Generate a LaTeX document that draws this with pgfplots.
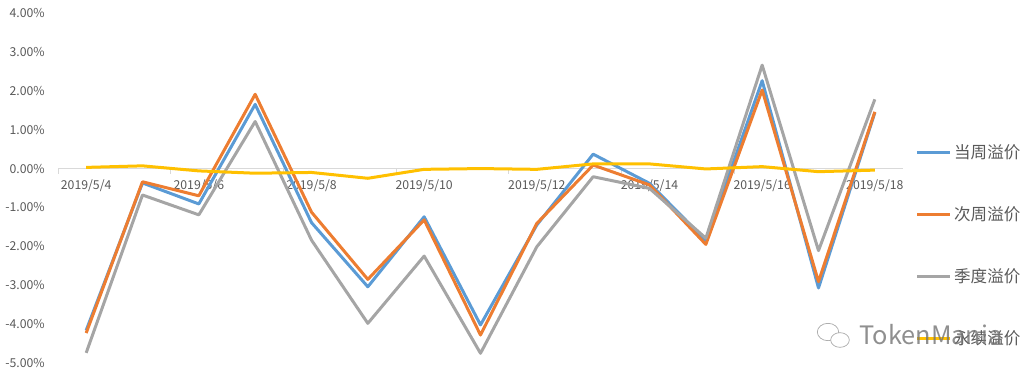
\documentclass[border=0pt]{standalone}
\usepackage{fontspec}
\setmainfont{Noto Sans CJK SC}
\usepackage{pgfplots}
\pgfplotsset{compat=1.18}
\definecolor{cblue}{HTML}{5B9BD5}
\definecolor{corange}{HTML}{ED7D31}
\definecolor{cgray}{HTML}{A5A5A5}
\definecolor{cyellow}{HTML}{FFC000}
\definecolor{ctext}{HTML}{595959}
\definecolor{caxis}{HTML}{D9D9D9}
\pgfplotstableread{
x blue orange gray yellow
0 -4.16 -4.23 -4.74 0.03
1 -0.37 -0.34 -0.68 0.07
2 -0.91 -0.70 -1.19 -0.06
3 1.65 1.91 1.21 -0.12
4 -1.39 -1.12 -1.84 -0.10
5 -3.04 -2.85 -3.98 -0.25
6 -1.24 -1.32 -2.25 -0.02
7 -4.02 -4.28 -4.75 0.00
8 -1.45 -1.41 -2.01 -0.02
9 0.37 0.09 -0.21 0.12
10 -0.38 -0.42 -0.51 0.12
11 -1.85 -1.95 -1.79 -0.01
12 2.26 2.02 2.66 0.05
13 -3.07 -2.91 -2.11 -0.08
14 1.44 1.46 1.78 -0.04
}\datatable
\begin{document}
\begin{tikzpicture}
\path[use as bounding box] (0,0) rectangle (774pt,282pt);
\begin{axis}[
  at={(43.5pt,9.75pt)}, anchor=south west,
  scale only axis, width=633.75pt, height=262.5pt,
  xmin=-0.5, xmax=14.5, ymin=-5, ymax=4,
  clip=false,
  axis x line=middle, axis y line=left,
  hide obscured x ticks=false, hide obscured y ticks=false,
  axis line style={-},
  x axis line style={draw=caxis, line width=0.75pt},
  y axis line style={draw=none},
  xtick={0,2,...,14},
  xticklabels={2019/5/4,2019/5/6,2019/5/8,2019/5/10,2019/5/12,2019/5/14,2019/5/16,2019/5/18},
  minor xtick={-0.5,1.5,...,13.5},
  major tick length=0pt,
  minor tick length=4pt,
  tick align=outside,
  minor tick style={draw=caxis, line width=0.75pt},
  ytick={-5,-4,...,4},
  yticklabels={-5.00\%,-4.00\%,-3.00\%,-2.00\%,-1.00\%,0.00\%,1.00\%,2.00\%,3.00\%,4.00\%},
  ticklabel style={font=\fontsize{9.2}{10}\selectfont, text=ctext},
  yticklabel style={anchor=east, inner sep=0pt, xshift=-9.75pt},
  xticklabel style={anchor=north, inner sep=0pt, yshift=-8pt},
  legend style={at={(1.0145,0.632)}, anchor=north west, draw=none, fill=none,
    font=\fontsize{12.4}{14}\selectfont, text=ctext, row sep=30.6pt,
    inner sep=0pt, cells={anchor=west}},
  legend image code/.code={\draw[#1, line width=2.25pt] (0pt,0pt) -- (24.75pt,0pt);},
  every axis plot/.append style={line width=2.25pt, line join=round},
]
\addplot[cblue, mark=none] table[x=x, y=blue] {\datatable};
\addlegendentry{当周溢价}
\addplot[corange, mark=none] table[x=x, y=orange] {\datatable};
\addlegendentry{次周溢价}
\addplot[cgray, mark=none] table[x=x, y=gray] {\datatable};
\addlegendentry{季度溢价}
\addplot[cyellow, mark=none] table[x=x, y=yellow] {\datatable};
\addlegendentry{永续溢价}
\end{axis}
\draw[black!35, line width=0.5pt] (621pt,33pt) ellipse (8pt and 6.5pt);
\draw[black!35, line width=0.5pt, fill=white] (630pt,27pt) ellipse (7pt and 5.5pt);
\node[anchor=west, text=black!55, opacity=0.8, font=\fontsize{19}{20}\selectfont] at (641pt,31pt) {TokenMania};
\end{tikzpicture}
\end{document}
